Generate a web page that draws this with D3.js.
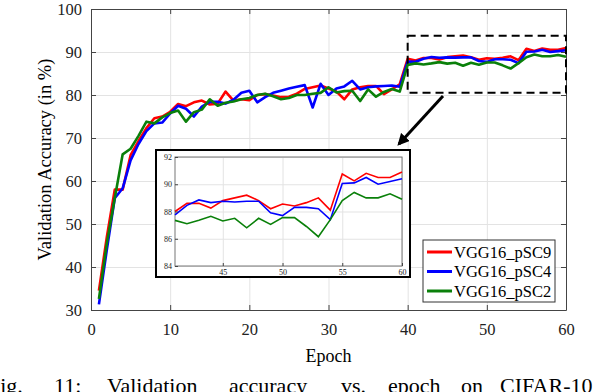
<!DOCTYPE html>
<html>
<head>
<meta charset="utf-8">
<script src="https://cdn.jsdelivr.net/npm/d3@7"></script>
<style>
  body { margin: 0; background: #fff; }
  svg text { font-family: "Liberation Serif", "DejaVu Serif", serif; }
  .grid line { stroke: #e3e3e3; stroke-width: 1; }
  .grid path { display: none; }
  .axis path, .axis line { stroke: #444; }
  .axis text { fill: #222; }
</style>
</head>
<body>
<div id="chart"></div>
<script>
const width = 608;
const height = 392;

// plot frame (pixels)
const plot = { left: 91, right: 566, top: 9, bottom: 310 };

// DATA
const epochs = d3.range(1, 61);

const pSC9 = [
    34.5, 47.0, 58.0, 58.0, 66.0, 69.3, 72.3, 74.6, 75.0, 76.1,
    77.9, 77.4, 78.3, 78.7, 77.8, 78.0, 80.8, 78.7, 79.0, 78.8,
    80.0, 80.2, 79.9, 79.5, 79.6, 80.3, 81.4, 81.8, 82.2, 81.5,
    80.8, 79.0, 81.3, 81.8, 82.1, 82.1, 80.2, 81.3, 82.5, 88.4,
    88.0, 88.6, 88.6, 88.25, 88.8, 89.0, 89.2, 88.8, 88.2, 88.55,
    88.4, 88.65, 89.0, 88.1, 90.75, 90.25, 90.8, 90.5, 90.5, 90.9
];

const pSC4 = [
    31.3, 44.0, 56.0, 58.3, 64.8, 68.6, 71.6, 73.4, 73.6, 75.7,
    77.5, 76.8, 75.0, 77.3, 78.4, 78.4, 78.0, 78.9, 80.5, 81.0,
    78.3, 79.5, 80.5, 81.0, 81.5, 81.9, 82.3, 77.1, 82.6, 80.0,
    81.5, 82.0, 83.3, 81.3, 81.8, 82.0, 82.1, 82.2, 81.9, 87.8,
    87.75, 88.45, 88.85, 88.65, 88.75, 88.7, 88.75, 88.75, 87.9, 87.7,
    88.3, 88.3, 88.2, 87.4, 90.05, 90.1, 90.5, 90.0, 90.2, 90.4
];

const pSC2 = [
    32.6, 45.5, 56.0, 66.2, 67.5, 70.5, 73.8, 73.4, 74.8, 75.8,
    76.4, 73.8, 76.0, 76.6, 79.0, 77.5, 78.2, 78.5, 79.0, 79.3,
    80.0, 80.3, 79.7, 79.0, 79.3, 80.0, 80.0, 80.3, 80.5, 81.8,
    80.6, 80.9, 81.0, 78.6, 81.3, 79.6, 80.7, 81.4, 80.8, 87.0,
    87.35, 87.1, 87.35, 87.65, 87.3, 87.5, 86.8, 87.5, 87.05, 87.55,
    87.55, 86.9, 86.15, 87.4, 88.8, 89.4, 89.0, 89.0, 89.3, 88.9
];

const seriesNames = ["VGG16_pSC9", "VGG16_pSC4", "VGG16_pSC2"];
const seriesColors = ["#ff0000", "#0000ff", "#0a800a"];

const xTicks = [0, 10, 20, 30, 40, 50, 60];
const yTicks = [30, 40, 50, 60, 70, 80, 90, 100];
const insetXTicks = [45, 50, 55, 60];
const insetYTicks = [84, 86, 88, 90, 92];

// zoom window drawn as dashed box on the main chart
const zoomWindow = { x0: 40, x1: 60, y0: 80.5, y1: 93.8 };

const captionWords = ["Fig.", "11:", "Validation", "accuracy", "vs.", "epoch", "on", "CIFAR-10"];
const captionX = [-12, 54, 107, 229, 341, 388, 461, 500];

const series = seriesNames.map((name, i) => ({
    name,
    color: seriesColors[i],
    values: [pSC9, pSC4, pSC2][i].map((v, j) => ({ epoch: epochs[j], acc: v }))
}));

const svg = d3.select("#chart")
    .append("svg")
    .attr("width", width)
    .attr("height", height);

////////////////////////////////////////////////////////
// MAIN CHART
////////////////////////////////////////////////////////

const x = d3.scaleLinear().domain([0, 60]).range([plot.left, plot.right]);
const y = d3.scaleLinear().domain([30, 100]).range([plot.bottom, plot.top]);

// GRID
svg.append("g")
    .attr("class", "grid")
    .attr("transform", `translate(0,${plot.bottom})`)
    .call(d3.axisBottom(x).tickValues(xTicks.slice(1, -1))
        .tickSize(-(plot.bottom - plot.top)).tickFormat(""));

svg.append("g")
    .attr("class", "grid")
    .attr("transform", `translate(${plot.left},0)`)
    .call(d3.axisLeft(y).tickValues(yTicks.slice(1, -1))
        .tickSize(-(plot.right - plot.left)).tickFormat(""));

// LINES
const line = d3.line()
    .x(d => x(d.epoch))
    .y(d => y(d.acc));

svg.selectAll(".line")
    .data(series)
    .enter()
    .append("path")
    .attr("class", "line")
    .attr("fill", "none")
    .attr("stroke", d => d.color)
    .attr("stroke-width", 2.6)
    .attr("stroke-linejoin", "round")
    .attr("d", d => line(d.values));

// AXES (ticks inward on all sides)
svg.append("g")
    .attr("class", "axis")
    .attr("font-family", null)
    .attr("transform", `translate(0,${plot.bottom})`)
    .call(d3.axisBottom(x).tickValues(xTicks).tickSizeInner(-5).tickSizeOuter(0).tickPadding(13))
    .selectAll("text").style("font-size", "16.5px");

svg.append("g")
    .attr("class", "axis")
    .attr("transform", `translate(${plot.left},0)`)
    .call(d3.axisLeft(y).tickValues(yTicks).tickSizeInner(-5).tickSizeOuter(0).tickPadding(9))
    .selectAll("text").style("font-size", "16.5px");

svg.append("g")
    .attr("class", "axis")
    .attr("transform", `translate(0,${plot.top})`)
    .call(d3.axisTop(x).tickValues(xTicks).tickSizeInner(-5).tickSizeOuter(0).tickFormat(""));

svg.append("g")
    .attr("class", "axis")
    .attr("transform", `translate(${plot.right},0)`)
    .call(d3.axisRight(y).tickValues(yTicks).tickSizeInner(-5).tickSizeOuter(0).tickFormat(""));

// X LABEL
svg.append("text")
    .attr("x", (plot.left + plot.right) / 2)
    .attr("y", 362)
    .attr("text-anchor", "middle")
    .style("font-size", "18px")
    .text("Epoch");

// Y LABEL
svg.append("text")
    .attr("transform", `translate(51,${(plot.top + plot.bottom) / 2}) rotate(-90)`)
    .attr("text-anchor", "middle")
    .style("font-size", "18.5px")
    .text("Validation Accuracy (in %)");

// DASHED ZOOM BOX
svg.append("rect")
    .attr("x", x(zoomWindow.x0))
    .attr("y", y(zoomWindow.y1))
    .attr("width", x(zoomWindow.x1) - x(zoomWindow.x0))
    .attr("height", y(zoomWindow.y0) - y(zoomWindow.y1))
    .attr("fill", "none")
    .attr("stroke", "#000")
    .attr("stroke-width", 2)
    .attr("stroke-dasharray", "8,5");

// ARROW
svg.append("defs").append("marker")
    .attr("id", "head")
    .attr("viewBox", "0 0 10 10")
    .attr("refX", 8).attr("refY", 5)
    .attr("markerWidth", 4).attr("markerHeight", 4)
    .attr("orient", "auto")
    .append("path")
    .attr("d", "M0,0 L10,5 L0,10 Z")
    .attr("fill", "#000");

svg.append("line")
    .attr("x1", 443).attr("y1", 96)
    .attr("x2", 399).attr("y2", 144)
    .attr("stroke", "#000")
    .attr("stroke-width", 3)
    .attr("marker-end", "url(#head)");

////////////////////////////////////////////////////////
// INSET
////////////////////////////////////////////////////////

const inset = { left: 175, right: 402, top: 157, bottom: 266 };

svg.append("rect")
    .attr("x", 156).attr("y", 150)
    .attr("width", 254).attr("height", 127)
    .attr("fill", "#fff")
    .attr("stroke", "#000")
    .attr("stroke-width", 2);

const xi = d3.scaleLinear().domain([41, 60]).range([inset.left, inset.right]);
const yi = d3.scaleLinear().domain([84, 92]).range([inset.bottom, inset.top]);

svg.append("g")
    .attr("class", "grid")
    .attr("transform", `translate(0,${inset.bottom})`)
    .call(d3.axisBottom(xi).tickValues(insetXTicks)
        .tickSize(-(inset.bottom - inset.top)).tickFormat(""));

svg.append("g")
    .attr("class", "grid")
    .attr("transform", `translate(${inset.left},0)`)
    .call(d3.axisLeft(yi).tickValues(insetYTicks)
        .tickSize(-(inset.right - inset.left)).tickFormat(""));

svg.append("rect")
    .attr("x", inset.left).attr("y", inset.top)
    .attr("width", inset.right - inset.left)
    .attr("height", inset.bottom - inset.top)
    .attr("fill", "none")
    .attr("stroke", "#777")
    .attr("stroke-width", 1);

const insetLine = d3.line()
    .x(d => xi(d.epoch))
    .y(d => yi(d.acc));

svg.selectAll(".inset-line")
    .data(series)
    .enter()
    .append("path")
    .attr("class", "inset-line")
    .attr("fill", "none")
    .attr("stroke", d => d.color)
    .attr("stroke-width", 1.6)
    .attr("d", d => insetLine(d.values.filter(v => v.epoch >= 41)));

svg.append("g")
    .attr("class", "axis")
    .attr("transform", `translate(0,${inset.bottom})`)
    .call(d3.axisBottom(xi).tickValues(insetXTicks).tickSizeInner(-3).tickSizeOuter(0).tickPadding(3))
    .call(g => g.select(".domain").remove())
    .selectAll("text").style("font-size", "8px");

svg.append("g")
    .attr("class", "axis")
    .attr("transform", `translate(${inset.left},0)`)
    .call(d3.axisLeft(yi).tickValues(insetYTicks).tickSizeInner(-3).tickSizeOuter(0).tickPadding(3))
    .call(g => g.select(".domain").remove())
    .selectAll("text").style("font-size", "8px");

////////////////////////////////////////////////////////
// LEGEND
////////////////////////////////////////////////////////

const legend = svg.append("g").attr("transform", "translate(423,240)");

legend.append("rect")
    .attr("width", 132).attr("height", 62)
    .attr("fill", "#fff")
    .attr("stroke", "#333")
    .attr("stroke-width", 1);

const items = legend.selectAll(".item")
    .data(series)
    .enter()
    .append("g")
    .attr("transform", (d, i) => `translate(0,${12 + i * 19.5})`);

items.append("line")
    .attr("x1", 4).attr("x2", 29)
    .attr("stroke", d => d.color)
    .attr("stroke-width", 3);

items.append("text")
    .attr("x", 31).attr("y", 5.5)
    .style("font-size", "16.5px")
    .text(d => d.name);

////////////////////////////////////////////////////////
// CAPTION (cut at the bottom edge, as in the source figure)
////////////////////////////////////////////////////////

svg.selectAll(".caption")
    .data(captionWords)
    .enter()
    .append("text")
    .attr("class", "caption")
    .attr("x", (d, i) => captionX[i])
    .attr("y", 393)
    .style("font-size", "22px")
    .text(d => d);
</script>
</body>
</html>
